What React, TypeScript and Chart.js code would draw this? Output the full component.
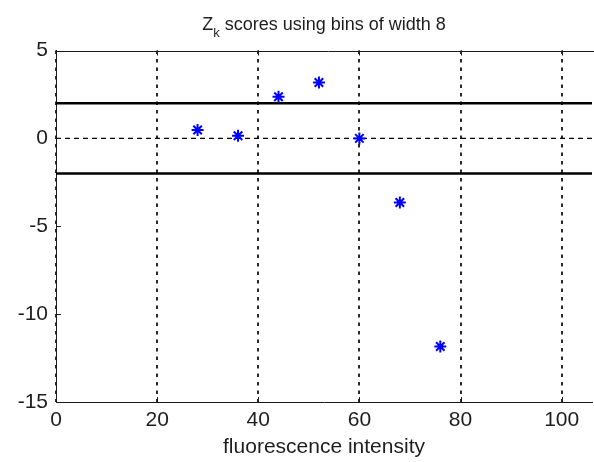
import { useEffect, useRef } from "react";
import { Chart, registerables } from "chart.js";

Chart.register(...registerables);

// ---- data ----
const binCenters = [28, 36, 44, 52, 60, 68, 76];
const zScores = [0.48, 0.15, 2.37, 3.18, 0.0, -3.65, -11.84];
const thresholdLevels = [2, -2];
const zeroLevel = 0;
const xLimits = [0, 106];
const yLimits = [-15, 5];
const xTicks = [0, 20, 40, 60, 80, 100];
const yTicks = [-15, -10, -5, 0, 5];
const titleMain = "Z";
const titleSub = "k";
const titleRest = " scores using bins of width 8";
const xLabel = "fluorescence intensity";

const FONT = "'Liberation Sans', Arial, Helvetica, sans-serif";
const TEXT = "#1e1e1e";

const matlabPlugin = {
  id: "matlabDecor",
  afterDraw(chart: any) {
    const { ctx, chartArea, scales } = chart;
    const { left, right, top, bottom } = chartArea;
    ctx.save();
    ctx.strokeStyle = "#1a1a1a";
    ctx.lineWidth = 1;
    ctx.setLineDash([]);
    ctx.beginPath();
    ctx.moveTo(left, Math.round(top) + 0.5);
    ctx.lineTo(right + 10, Math.round(top) + 0.5);
    ctx.stroke();
    const tl = 5;
    ctx.beginPath();
    for (const v of xTicks) {
      const px = Math.round(scales.x.getPixelForValue(v)) + 0.5;
      ctx.moveTo(px, bottom);
      ctx.lineTo(px, bottom - tl);
      ctx.moveTo(px, top);
      ctx.lineTo(px, top + tl);
    }
    for (const v of yTicks) {
      const py = Math.round(scales.y.getPixelForValue(v)) + 0.5;
      ctx.moveTo(left, py);
      ctx.lineTo(left + tl, py);
    }
    ctx.stroke();

    // title with subscript
    const cx = (left + right) / 2;
    const big = `18px ${FONT}`;
    const small = `13px ${FONT}`;
    ctx.font = big;
    const wZ = ctx.measureText(titleMain).width;
    const wR = ctx.measureText(titleRest).width;
    ctx.font = small;
    const wk = ctx.measureText(titleSub).width;
    let x = cx - (wZ + wk + wR) / 2;
    ctx.fillStyle = TEXT;
    ctx.textBaseline = "alphabetic";
    ctx.textAlign = "left";
    ctx.font = big;
    ctx.fillText(titleMain, x, 30);
    x += wZ;
    ctx.font = small;
    ctx.fillText(titleSub, x, 37);
    x += wk;
    ctx.font = big;
    ctx.fillText(titleRest, x, 30);
    ctx.restore();
  },
};

export default function App() {
  const ref = useRef<HTMLCanvasElement | null>(null);

  useEffect(() => {
    if (!ref.current) return;
    const lineSet = (level: number, width: number, dash: number[]) => ({
      type: "line" as const,
      data: [
        { x: xLimits[0], y: level },
        { x: xLimits[1], y: level },
      ],
      borderColor: "#000",
      borderWidth: width,
      borderDash: dash,
      pointRadius: 0,
      fill: false,
      tension: 0,
      order: 2,
    });
    const chart = new Chart(ref.current, {
      type: "scatter",
      data: {
        datasets: [
          {
            type: "scatter",
            data: binCenters.map((x, i) => ({ x, y: zScores[i] })),
            pointStyle: "star",
            pointRadius: 6,
            pointHoverRadius: 6,
            borderColor: "#0000ff",
            backgroundColor: "#0000ff",
            pointBorderWidth: 2,
            borderWidth: 2,
            order: 0,
          } as any,
          ...thresholdLevels.map((lv) => lineSet(lv, 2.4, [])),
          lineSet(zeroLevel, 1.3, [5, 4]),
        ],
      },
      options: {
        animation: false,
        responsive: false,
        devicePixelRatio: 1,
        layout: { padding: { left: 0, top: 50.5, right: 1.6, bottom: 0 } },
        plugins: {
          legend: { display: false },
          tooltip: { enabled: false },
          title: { display: false },
        },
        scales: {
          x: {
            type: "linear",
            min: xLimits[0],
            max: xLimits[1],
            afterBuildTicks: (s: any) => {
              s.ticks = xTicks.map((v) => ({ value: v }));
            },
            afterFit: (s: any) => {
              s.height = 60;
            },
            ticks: {
              color: TEXT,
              font: { size: 21, family: FONT },
              padding: 6,
              maxRotation: 0,
              callback: (v: any) => String(v),
            },
            grid: {
              display: true,
              drawTicks: false,
              color: "#2a2a2a",
              lineWidth: 2,
            },
            border: { display: true, color: "#1a1a1a", width: 1, dash: [3.5, 5] },
            title: {
              display: true,
              text: xLabel,
              color: TEXT,
              font: { size: 21, family: FONT },
              padding: { top: 0, bottom: 2 },
            },
          },
          y: {
            type: "linear",
            min: yLimits[0],
            max: yLimits[1],
            afterBuildTicks: (s: any) => {
              s.ticks = yTicks.map((v) => ({ value: v }));
            },
            afterFit: (s: any) => {
              s.width = 56;
            },
            ticks: {
              color: TEXT,
              font: { size: 21, family: FONT },
              padding: 8,
              callback: (v: any) => String(v),
            },
            grid: { display: false, drawTicks: false },
            border: { display: true, color: "#1a1a1a", width: 1 },
          },
        },
      },
      plugins: [matlabPlugin],
    } as any);
    return () => chart.destroy();
  }, []);

  return (
    <div
      style={{
        position: "fixed",
        left: 0,
        top: 0,
        width: 594,
        height: 462,
        overflow: "hidden",
        background: "#fff",
      }}
    >
      <canvas
        ref={ref}
        width={600}
        height={462}
        style={{ width: 600, height: 462, display: "block" }}
      />
    </div>
  );
}
